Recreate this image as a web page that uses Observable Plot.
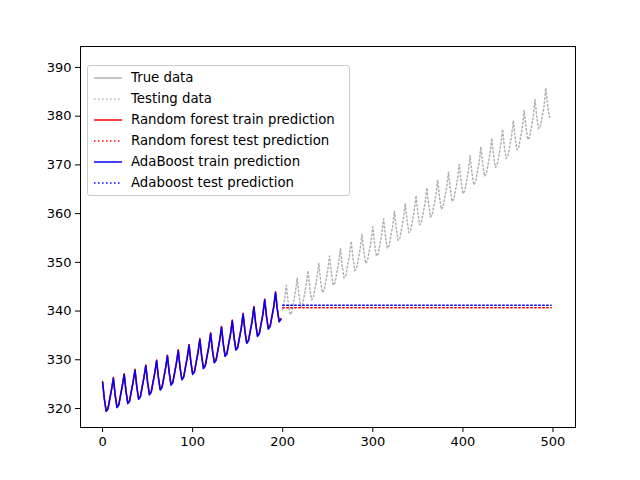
<!DOCTYPE html>
<html>
<head>
<script src="https://cdn.jsdelivr.net/npm/d3@7"></script>
<script src="https://cdn.jsdelivr.net/npm/@observablehq/plot@0.6"></script>
<style>
  body { margin: 0; background: #fff; font-family: "DejaVu Sans", sans-serif; }
  #wrap { position: relative; width: 640px; height: 480px; }
  #legend { position: absolute; left: 87px; top: 65px; width: 263px; border: 1px solid #ccc; border-radius: 3px;
    background: rgba(255,255,255,0.85); font-size: 13.3px; padding: 1px 0 2px 0; box-sizing: border-box; }
  .row { display: flex; align-items: center; height: 21px; }
  .row svg { margin: 0 9px 0 6px; }
</style>
</head>
<body>
<div id="wrap"><div id="chart"></div><div id="legend"></div></div>
<script>
const trueValues = [
  325.4,321.9,319.4,319.9,321.9,323.9, 326.2,322.7,320.2,320.7,322.7,324.7,
  327.0,323.5,321.0,321.5,323.5,325.5, 327.9,324.4,321.9,322.4,324.4,326.4,
  328.8,325.3,322.8,323.3,325.3,327.3, 329.8,326.3,323.8,324.3,326.3,328.3,
  330.8,327.3,324.8,325.3,327.3,329.3, 331.9,328.4,325.9,326.4,328.4,330.4,
  333.0,329.5,327.0,327.5,329.5,331.5, 334.2,330.7,328.2,328.7,330.7,332.7,
  335.4,331.9,329.4,329.9,331.9,333.9, 336.7,333.2,330.7,331.2,333.2,335.2,
  338.0,334.5,332.0,332.5,334.5,336.5, 339.4,335.9,333.4,333.9,335.9,337.9,
  340.8,337.3,334.8,335.3,337.3,339.3, 342.3,338.8,336.3,336.8,338.8,340.8,
  343.8,340.3,337.8,338.3,340.3,342.3, 345.3,341.8,339.3,339.8,341.8,343.8,
  346.8,343.3,340.8,341.3,343.3,345.3, 348.3,344.8,342.3,342.8,344.8,346.8,
  349.8,346.3,343.8,344.3,346.3,348.3, 351.3,347.8,345.3,345.8,347.8,349.8,
  352.8,349.3,346.8,347.3,349.3,351.3, 354.3,350.8,348.3,348.8,350.8,352.8,
  355.8,352.3,349.8,350.3,352.3,354.3, 357.3,353.8,351.3,351.8,353.8,355.8,
  358.9,355.4,352.9,353.4,355.4,357.4, 360.5,357.0,354.5,355.0,357.0,359.0,
  362.1,358.6,356.1,356.6,358.6,360.6, 363.7,360.2,357.7,358.2,360.2,362.2,
  365.3,361.8,359.3,359.8,361.8,363.8, 366.9,363.4,360.9,361.4,363.4,365.4,
  368.5,365.0,362.5,363.0,365.0,367.0, 370.1,366.6,364.1,364.6,366.6,368.6,
  371.9,368.4,365.9,366.4,368.4,370.4, 373.7,370.2,367.7,368.2,370.2,372.2,
  375.5,372.0,369.5,370.0,372.0,374.0, 377.3,373.8,371.3,371.8,373.8,375.8,
  379.1,375.6,373.1,373.6,375.6,377.6, 381.2,377.7,375.2,375.7,377.7,379.7,
  383.4,379.9,377.4,377.9,379.9,381.9, 385.8,382.3,379.8,380.3
];
const step = 2;
const trainCount = 100;
const rfTestValue = 340.7;
const adaTestValue = 341.2;
const xTicks = [0, 100, 200, 300, 400, 500];
const yTicks = [320, 330, 340, 350, 360, 370, 380, 390];

const all = trueValues.map((v, i) => ({x: i * step, y: v}));
const train = all.slice(0, trainCount);
const test = all.slice(trainCount);
const rfTrain = train.map(d => ({x: d.x, y: d.y + 0.15}));
const adaTrain = train;
const rfTest = test.map(d => ({x: d.x, y: rfTestValue}));
const adaTest = test.map(d => ({x: d.x, y: adaTestValue}));

const gray = "#b0b0b0";
const dots = "1.5,2.5";

const chart = Plot.plot({
  width: 640, height: 480,
  marginLeft: 80, marginRight: 65, marginTop: 46, marginBottom: 53,
  style: {fontFamily: "DejaVu Sans", fontSize: "13px", color: "#000"},
  x: {domain: [-24.5, 525]},
  y: {domain: [316.1, 394.3]},
  marks: [
    Plot.line(train, {x: "x", y: "y", stroke: gray, strokeWidth: 1.5}),
    Plot.line(test, {x: "x", y: "y", stroke: gray, strokeWidth: 1.5, strokeDasharray: dots}),
    Plot.line(rfTrain, {x: "x", y: "y", stroke: "red", strokeWidth: 1.5}),
    Plot.line(rfTest, {x: "x", y: "y", stroke: "red", strokeWidth: 1.5, strokeDasharray: dots}),
    Plot.line(adaTrain, {x: "x", y: "y", stroke: "blue", strokeWidth: 1.5}),
    Plot.line(adaTest, {x: "x", y: "y", stroke: "blue", strokeWidth: 1.5, strokeDasharray: dots}),
    Plot.frame({stroke: "#000"}),
    Plot.axisX({ticks: xTicks, tickSize: 5, tickPadding: 4, label: null}),
    Plot.axisY({ticks: yTicks, tickSize: 5, tickPadding: 4, label: null})
  ]
});
d3.select("#chart").append(() => chart);

const legendItems = [
  ["True data", gray, null],
  ["Testing data", gray, dots],
  ["Random forest train prediction", "red", null],
  ["Random forest test prediction", "red", dots],
  ["AdaBoost train prediction", "blue", null],
  ["Adaboost test prediction", "blue", dots]
];
const rows = d3.select("#legend").selectAll("div").data(legendItems).join("div").attr("class", "row");
const sw = rows.append("svg").attr("width", 28).attr("height", 10);
sw.append("line").attr("x1", 0).attr("x2", 28).attr("y1", 5).attr("y2", 5)
  .attr("stroke", d => d[1]).attr("stroke-width", 1.5).attr("stroke-dasharray", d => d[2]);
rows.append("span").text(d => d[0]);
</script>
</body>
</html>
